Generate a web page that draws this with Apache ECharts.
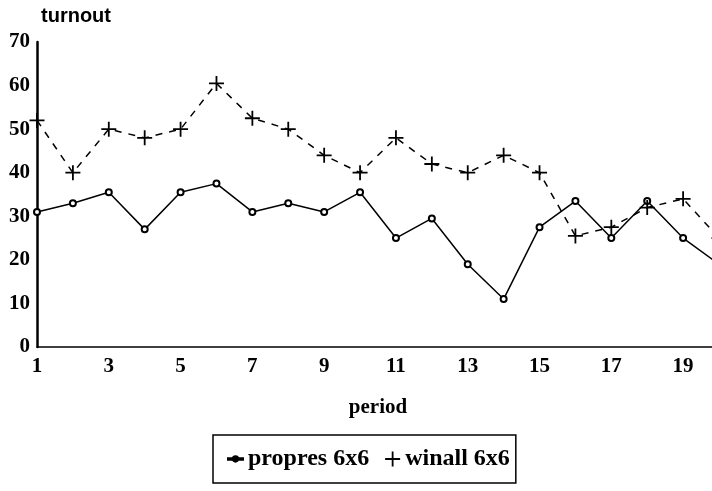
<!DOCTYPE html>
<html>
<head>
<meta charset="utf-8">
<script src="https://cdn.jsdelivr.net/npm/echarts@6/dist/echarts.min.js"></script>
<style>
  html, body { margin: 0; padding: 0; background: #fff; }
  #chart { width: 712px; height: 491px; }
</style>
</head>
<body>
<div id="chart"></div>
<script>
// periods on the x axis
var periods = ["1", "2", "3", "4", "5", "6", "7", "8", "9", "10",
  "11", "12", "13", "14", "15", "16", "17", "18", "19", "20"];
// turnout per period
var propres = [31, 33, 35.5, 27, 35.5, 37.5, 31, 33, 31, 35.5,
  25, 29.5, 19, 11, 27.5, 33.5, 25, 33.5, 25, 19];
var winall = [52, 40, 50, 48, 50, 60.5, 52.5, 50, 44, 40,
  48, 42, 40, 44, 40, 25.5, 27.5, 32, 34, 25];
var yTicks = { min: 0, max: 70, step: 10 };

var serif = "'Liberation Serif', 'DejaVu Serif', serif";
var plusIcon = "path://M0,4.4h10v1.2h-10z M4.4,0h1.2v10h-1.2z";
var dotLineIcon = "path://M0,4.5h10v1h-10z M5,3.2a1.8,1.8 0 1,0 0.01,0z";

var chart = echarts.init(document.getElementById("chart"));
chart.setOption({
  backgroundColor: "#fff",
  animation: false,
  grid: { left: 37, right: -7, top: 42, bottom: 144, outerBoundsMode: "none", containLabel: false },
  legend: {
    left: 213,
    top: 435,
    borderColor: "#000",
    borderWidth: 1.5,
    borderRadius: 0,
    padding: [12, 6, 12, 14],
    itemWidth: 15,
    itemHeight: 15,
    itemGap: 16,
    textStyle: { fontFamily: serif, fontWeight: "bold", fontSize: 24, color: "#000" },
    data: [
      { name: "propres 6x6", icon: dotLineIcon, itemStyle: { color: "#000" } },
      { name: "winall 6x6", icon: plusIcon, itemStyle: { color: "#000" } }
    ]
  },
  xAxis: {
    type: "category",
    data: periods,
    boundaryGap: false,
    name: "period",
    nameLocation: "middle",
    nameGap: 50,
    nameTextStyle: { fontFamily: serif, fontWeight: "bold", fontSize: 21, color: "#000" },
    axisLine: { lineStyle: { color: "#000", width: 1.5 } },
    axisTick: { show: false },
    axisLabel: { interval: 1, margin: 9, fontFamily: serif, fontWeight: "bold", fontSize: 21, color: "#000" },
    splitLine: { show: false }
  },
  yAxis: {
    type: "value",
    min: yTicks.min,
    max: yTicks.max,
    interval: yTicks.step,
    name: "turnout",
    nameLocation: "end",
    nameGap: 16,
    nameTextStyle: {
      fontFamily: "'Liberation Sans', Arial, sans-serif", fontWeight: "bold", fontSize: 20,
      color: "#000", align: "left", verticalAlign: "bottom", padding: [0, 0, 0, 4]
    },
    axisLine: { show: true, lineStyle: { color: "#000", width: 2.5 } },
    axisTick: { show: false },
    axisLabel: { margin: 7, fontFamily: serif, fontWeight: "bold", fontSize: 21, color: "#000" },
    splitLine: { show: false }
  },
  series: [
    {
      name: "propres 6x6",
      type: "line",
      data: propres,
      symbol: "emptyCircle",
      symbolSize: 6,
      lineStyle: { color: "#000", width: 1.5 },
      itemStyle: { color: "#000", borderColor: "#000", borderWidth: 1.5 }
    },
    {
      name: "winall 6x6",
      type: "line",
      data: winall,
      symbol: plusIcon,
      symbolSize: 15,
      lineStyle: { color: "#000", width: 1.5, type: [7, 7] },
      itemStyle: { color: "#000" }
    }
  ]
});
</script>
</body>
</html>
